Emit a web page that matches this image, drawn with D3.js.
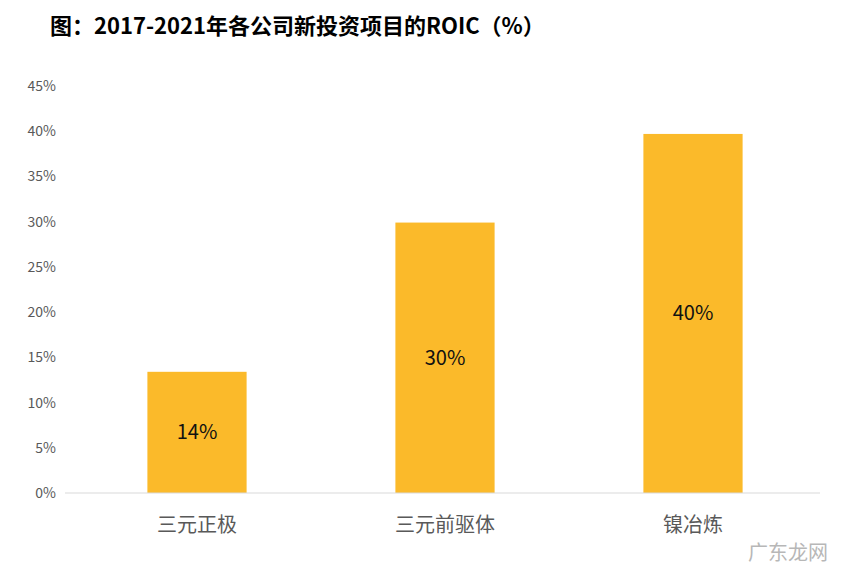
<!DOCTYPE html>
<html><head><meta charset="utf-8">
<script src="https://cdn.jsdelivr.net/npm/d3@7"></script>
<style>body{margin:0;background:#fff}</style>
</head><body>
<svg id="chart" width="864" height="576"></svg>
<script>
const categories = ['三元正极', '三元前驱体', '镍冶炼'];
const roic = [13.4, 29.9, 39.7];
const barLabels = ['14%', '30%', '40%'];
const yTicks = [0, 5, 10, 15, 20, 25, 30, 35, 40, 45];

const svg = d3.select('#chart');
const font = '"Noto Sans CJK SC", "Noto Sans", sans-serif';

svg.append('text')
  .attr('x', 50).attr('y', 34)
  .attr('font-family', font).attr('font-weight', 'bold')
  .attr('font-size', 22).attr('fill', '#000')
  .text('图：2017-2021年各公司新投资项目的ROIC（%）');

const x = d3.scaleBand().domain(categories).range([73, 817]).paddingInner(0.6).paddingOuter(0.3);
const y = d3.scaleLinear().domain([0, 45]).range([493, 86]);

// y tick labels (no axis line)
svg.append('g').selectAll('text').data(yTicks).enter().append('text')
  .attr('x', 56).attr('y', d => y(d) + 5)
  .attr('text-anchor', 'end')
  .attr('font-family', font).attr('font-size', 14).attr('fill', '#595959')
  .text(d => d + '%');

svg.append('g').selectAll('rect').data(categories).enter().append('rect')
  .attr('x', d => x(d)).attr('width', x.bandwidth())
  .attr('y', (d, i) => y(roic[i])).attr('height', (d, i) => y(0) - y(roic[i]))
  .attr('fill', '#FBBA2A');

svg.append('line')
  .attr('x1', 65).attr('x2', 820).attr('y1', y(0)).attr('y2', y(0))
  .attr('stroke', '#d9d9d9').attr('stroke-width', 1);

svg.append('g').selectAll('text').data(categories).enter().append('text')
  .attr('x', d => x(d) + x.bandwidth() / 2)
  .attr('y', (d, i) => (y(roic[i]) + y(0)) / 2 + 7)
  .attr('text-anchor', 'middle')
  .attr('font-family', font).attr('font-size', 20).attr('fill', '#111')
  .text((d, i) => barLabels[i]);

svg.append('g').selectAll('text').data(categories).enter().append('text')
  .attr('x', d => x(d) + x.bandwidth() / 2).attr('y', 532)
  .attr('text-anchor', 'middle')
  .attr('font-family', font).attr('font-size', 20).attr('fill', '#595959')
  .text(d => d);

svg.append('text')
  .attr('x', 828).attr('y', 560).attr('text-anchor', 'end')
  .attr('font-family', font).attr('font-size', 20).attr('fill', '#999').attr('opacity', 0.7)
  .text('广东龙网');
</script>
</body></html>
